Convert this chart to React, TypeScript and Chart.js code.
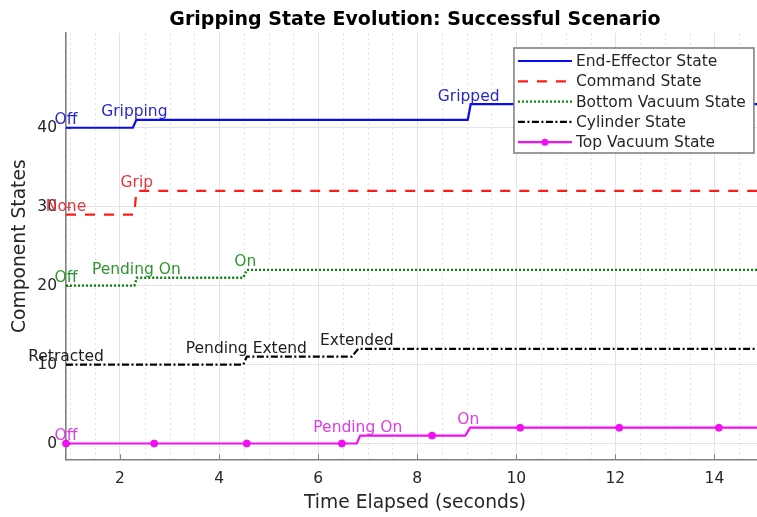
import React, { useEffect, useRef } from "react";
import { Chart, registerables } from "chart.js";

Chart.register(...registerables);

const FONT = "'DejaVu Sans', 'Liberation Sans', sans-serif";

// ---- axes ----
const xTicks = [2, 4, 6, 8, 10, 12, 14];
const yTicks = [0, 10, 20, 30, 40];
const xMinorStep = 0.5;
const X_MIN = 0.91;
const X_MAX = 14.86; // visible part of the axis (figure is cropped on the right)
const X_END = 15; // nominal end of the axes, used to centre titles
const Y_MIN = -2;
const Y_MAX = 52;

// ---- series ----
const eeTime = [0.91, 2.26, 2.33, 9.02, 9.08, 15];
const eeValue = [40, 40, 41, 41, 43, 43];
const eeLabels = ["Off", "Gripping", "Gripped"];
const eeLabelTime = [0.91, 2.29, 9.04];
const eeLabelValue = [40, 41, 43];

const cmdTime = [0.91, 2.29, 2.33, 15];
const cmdValue = [29, 29, 32, 32];
const cmdLabels = ["None", "Grip"];
const cmdLabelTime = [0.91, 2.34];
const cmdLabelValue = [29, 32];

const botTime = [0.91, 2.29, 2.34, 4.49, 4.56, 15];
const botValue = [20, 20, 21, 21, 22, 22];
const botLabels = ["Off", "Pending On", "On"];
const botLabelTime = [0.91, 2.33, 4.53];
const botLabelValue = [20, 21, 22];

const cylTime = [0.91, 4.49, 4.56, 6.68, 6.81, 15];
const cylValue = [10, 10, 11, 11, 12, 12];
const cylLabels = ["Retracted", "Pending Extend", "Extended"];
const cylLabelTime = [0.91, 4.55, 6.78];
const cylLabelValue = [10, 11, 12];

const topTime = [0.91, 2.69, 4.56, 6.48, 6.78, 6.85, 8.3, 8.97, 9.07, 10.08, 12.08, 14.09, 15];
const topValue = [0, 0, 0, 0, 0, 1, 1, 1, 2, 2, 2, 2, 2];
const topMarker = [1, 1, 1, 1, 0, 0, 1, 0, 0, 1, 1, 1, 0];
const topLabels = ["Off", "Pending On", "On"];
const topLabelTime = [0.91, 6.8, 9.03];
const topLabelValue = [0, 1, 2];

const seriesNames = [
  "End-Effector State",
  "Command State",
  "Bottom Vacuum State",
  "Cylinder State",
  "Top Vacuum State",
];

const titleText = "Gripping State Evolution: Successful Scenario";
const xTitleText = "Time Elapsed (seconds)";
const yTitleText = "Component States";

const toPoints = (t: number[], v: number[]) => t.map((x, i) => ({ x, y: v[i] }));

const labelGroups = [
  { labels: eeLabels, times: eeLabelTime, values: eeLabelValue, color: "#2828c8" },
  { labels: cmdLabels, times: cmdLabelTime, values: cmdLabelValue, color: "#e3353c" },
  { labels: botLabels, times: botLabelTime, values: botLabelValue, color: "#2f952f" },
  { labels: cylLabels, times: cylLabelTime, values: cylLabelValue, color: "#1e1e1e" },
  { labels: topLabels, times: topLabelTime, values: topLabelValue, color: "#e03ce0" },
];

const axesCentreX = (chart: any) => {
  const x = chart.scales.x;
  return (x.getPixelForValue(X_MIN) + x.getPixelForValue(X_END)) / 2;
};

const titlePlugin = {
  id: "axesTitle",
  afterDraw(chart: any) {
    const { ctx } = chart;
    const cx = axesCentreX(chart);
    ctx.save();
    ctx.font = `bold 19px ${FONT}`;
    ctx.fillStyle = "#000";
    ctx.textAlign = "center";
    ctx.textBaseline = "alphabetic";
    ctx.fillText(titleText, cx, 25);
    ctx.font = `18.7px ${FONT}`;
    ctx.fillStyle = "#262626";
    ctx.textBaseline = "middle";
    ctx.fillText(xTitleText, cx, 503);
    ctx.restore();
  },
};

const minorGridPlugin = {
  id: "minorGrid",
  beforeDatasetsDraw(chart: any) {
    const { ctx, chartArea, scales } = chart;
    const x = scales.x;
    const y = scales.y;
    ctx.save();
    ctx.strokeStyle = "rgba(0,0,0,0.11)";
    ctx.lineWidth = 1;
    ctx.setLineDash([2, 3]);
    const start = Math.ceil(X_MIN / xMinorStep) * xMinorStep;
    for (let v = start; v <= X_MAX + 1e-9; v += xMinorStep) {
      if (xTicks.some((t) => Math.abs(t - v) < 1e-6)) continue;
      const px = Math.round(x.getPixelForValue(v)) + 0.5;
      ctx.beginPath();
      ctx.moveTo(px, chartArea.top);
      ctx.lineTo(px, chartArea.bottom);
      ctx.stroke();
    }
    // inward tick marks
    ctx.setLineDash([]);
    ctx.strokeStyle = "#808080";
    ctx.lineWidth = 1;
    for (const t of xTicks) {
      const px = Math.round(x.getPixelForValue(t)) + 0.5;
      ctx.beginPath();
      ctx.moveTo(px, chartArea.bottom);
      ctx.lineTo(px, chartArea.bottom - 5);
      ctx.stroke();
    }
    for (const t of yTicks) {
      const py = Math.round(y.getPixelForValue(t)) + 0.5;
      ctx.beginPath();
      ctx.moveTo(chartArea.left, py);
      ctx.lineTo(chartArea.left + 5, py);
      ctx.stroke();
    }
    ctx.restore();
  },
};

const labelPlugin = {
  id: "stateLabels",
  afterDatasetsDraw(chart: any) {
    const { ctx, scales } = chart;
    const x = scales.x;
    const y = scales.y;
    ctx.save();
    ctx.font = `15.5px ${FONT}`;
    ctx.textAlign = "center";
    ctx.textBaseline = "alphabetic";
    for (const g of labelGroups) {
      ctx.fillStyle = g.color;
      g.labels.forEach((lab, i) => {
        ctx.fillText(lab, x.getPixelForValue(g.times[i]), y.getPixelForValue(g.values[i]) - 3.5);
      });
    }
    ctx.restore();
  },
};

const legendPlugin = {
  id: "boxLegend",
  afterDraw(chart: any) {
    const { ctx, chartArea } = chart;
    const w = 240;
    const h = 105;
    const right = chart.scales.x.getPixelForValue(X_END) - 10;
    const left = right - w;
    const top = chartArea.top + 15;
    ctx.save();
    ctx.fillStyle = "#ffffff";
    ctx.strokeStyle = "#7a7a7a";
    ctx.lineWidth = 1.5;
    ctx.fillRect(left, top, w, h);
    ctx.strokeRect(left, top, w, h);
    ctx.font = `15.5px ${FONT}`;
    ctx.textBaseline = "middle";
    ctx.textAlign = "left";
    chart.data.datasets.forEach((ds: any, i: number) => {
      const rowY = top + 13 + i * 20.3;
      const x0 = left + 4;
      const x1 = left + 58;
      ctx.strokeStyle = ds.borderColor;
      ctx.lineWidth = ds.borderWidth;
      ctx.setLineDash(ds.borderDash || []);
      ctx.beginPath();
      ctx.moveTo(x0, rowY);
      ctx.lineTo(x1, rowY);
      ctx.stroke();
      ctx.setLineDash([]);
      if (Array.isArray(ds.pointRadius)) {
        ctx.fillStyle = ds.borderColor;
        ctx.beginPath();
        ctx.arc((x0 + x1) / 2, rowY, 3.5, 0, Math.PI * 2);
        ctx.fill();
      }
      ctx.fillStyle = "#262626";
      ctx.fillText(ds.label, left + 62, rowY + 1);
    });
    ctx.restore();
  },
};

export default function App() {
  const ref = useRef<HTMLCanvasElement | null>(null);

  useEffect(() => {
    document.body.style.margin = "0";
    document.body.style.overflow = "hidden";
    if (!ref.current) return;
    const chart = new Chart(ref.current, {
      type: "line",
      data: {
        datasets: [
          {
            label: seriesNames[0],
            data: toPoints(eeTime, eeValue),
            borderColor: "#0a0af5",
            borderWidth: 2.2,
            pointRadius: 0,
          },
          {
            label: seriesNames[1],
            data: toPoints(cmdTime, cmdValue),
            borderColor: "#ff1a1a",
            borderWidth: 2.2,
            borderDash: [10, 9],
            pointRadius: 0,
          },
          {
            label: seriesNames[2],
            data: toPoints(botTime, botValue),
            borderColor: "#0a800a",
            borderWidth: 2.4,
            borderDash: [2, 2],
            pointRadius: 0,
          },
          {
            label: seriesNames[3],
            data: toPoints(cylTime, cylValue),
            borderColor: "#000000",
            borderWidth: 2.2,
            borderDash: [7, 2.5, 2, 2.5],
            pointRadius: 0,
          },
          {
            label: seriesNames[4],
            data: toPoints(topTime, topValue),
            borderColor: "#f010f0",
            borderWidth: 2.2,
            pointRadius: topMarker.map((m) => (m ? 3.5 : 0)),
            pointBackgroundColor: "#f010f0",
            pointBorderColor: "#f010f0",
            pointBorderWidth: 1,
            clip: { left: 10, top: 0, right: 0, bottom: 10 } as any,
          },
        ] as any,
      },
      options: {
        animation: false,
        responsive: false,
        layout: { autoPadding: false, padding: { top: 33, left: 0, right: 0, bottom: 0 } },
        elements: { line: { tension: 0 } },
        plugins: {
          legend: { display: false },
          tooltip: { enabled: false },
          title: { display: false },
        },
        scales: {
          x: {
            type: "linear",
            min: X_MIN,
            max: X_MAX,
            afterBuildTicks: (scale: any) => {
              scale.ticks = xTicks.map((v) => ({ value: v }));
            },
            afterFit: (scale: any) => {
              scale.height = 57.7;
              scale.paddingLeft = 0;
              scale.paddingRight = 0;
            },
            ticks: {
              padding: 10,
              color: "#262626",
              font: { family: FONT, size: 15.5 },
              maxRotation: 0,
              autoSkip: false,
            },
            grid: { color: "#e3e3e3", lineWidth: 1, drawTicks: false },
            border: { color: "#808080", width: 1.6 },
            title: { display: false },
          },
          y: {
            type: "linear",
            min: Y_MIN,
            max: Y_MAX,
            afterBuildTicks: (scale: any) => {
              scale.ticks = yTicks.map((v) => ({ value: v }));
            },
            afterFit: (scale: any) => {
              scale.width = 66;
              scale.paddingTop = 0;
              scale.paddingBottom = 0;
            },
            ticks: {
              padding: 9,
              color: "#262626",
              font: { family: FONT, size: 15.5 },
              autoSkip: false,
            },
            grid: { color: "#e3e3e3", lineWidth: 1, drawTicks: false },
            border: { color: "#808080", width: 1.6 },
            title: {
              display: true,
              text: yTitleText,
              color: "#262626",
              font: { family: FONT, size: 18.7 },
              padding: { top: 9, bottom: 0 },
            },
          },
        },
      } as any,
      plugins: [minorGridPlugin, labelPlugin, legendPlugin, titlePlugin],
    });
    return () => chart.destroy();
  }, []);

  return (
    <div style={{ width: 757, height: 517 }}>
      <canvas ref={ref} width={757} height={517} style={{ display: "block" }} />
    </div>
  );
}
